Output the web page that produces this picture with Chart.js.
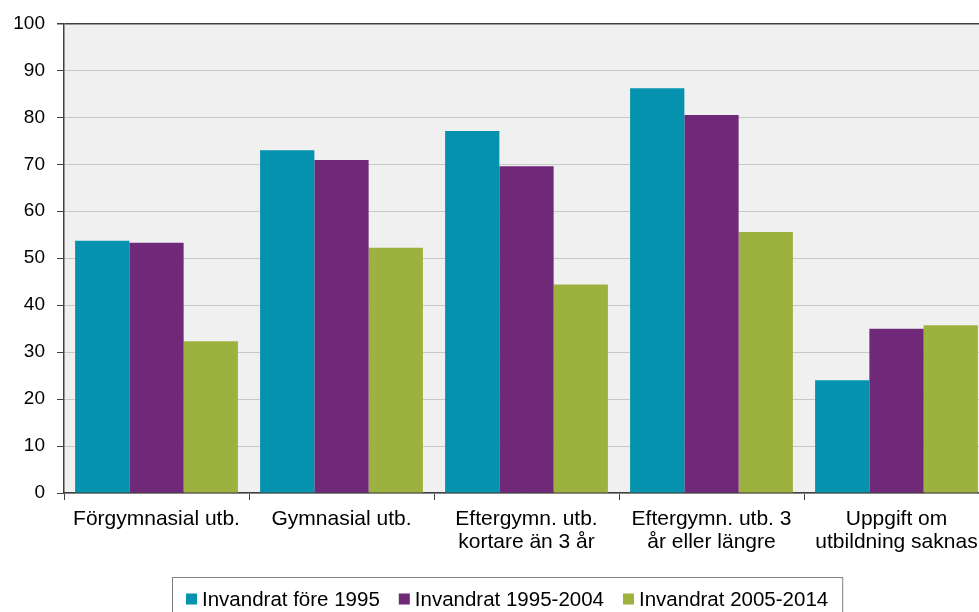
<!DOCTYPE html>
<html>
<head>
<meta charset="utf-8">
<script src="https://cdn.jsdelivr.net/npm/chart.js@4/dist/chart.umd.min.js"></script>
<style>
  html, body { margin: 0; padding: 0; overflow: hidden; background: #fff; }
  canvas { display: block; }
</style>
</head>
<body>
<canvas id="chart" width="990" height="612"></canvas>
<script>
// data
const categories = [
  ['Förgymnasial utb.'],
  ['Gymnasial utb.'],
  ['Eftergymn. utb.', 'kortare än 3 år'],
  ['Eftergymn. utb. 3', 'år eller längre'],
  ['Uppgift om', 'utbildning saknas']
];
const seriesNames = ['Invandrat före 1995', 'Invandrat 1995-2004', 'Invandrat 2005-2014'];
const fore1995 = [53.7, 73.0, 77.1, 86.2, 24.0];
const from1995to2004 = [53.3, 70.9, 69.6, 80.5, 35.0];
const from2005to2014 = [32.3, 52.2, 44.4, 55.6, 35.7];
const yTicks = [0, 10, 20, 30, 40, 50, 60, 70, 80, 90, 100];

const colors = ['#0592AE', '#702878', '#9CB13E'];
const FONT = "'Liberation Sans', Arial, sans-serif";

// grey plot background
const plotBg = {
  id: 'plotBg',
  beforeDraw(chart) {
    const a = chart.chartArea, ctx = chart.ctx;
    ctx.save();
    ctx.fillStyle = '#F0F0F0';
    ctx.fillRect(a.left, a.top, a.right - a.left, a.bottom - a.top);
    ctx.restore();
  }
};

// boxed legend under the axis
const boxLegend = {
  id: 'boxLegend',
  afterDraw(chart) {
    const ctx = chart.ctx;
    ctx.save();
    ctx.font = '20.5px ' + FONT;
    ctx.textBaseline = 'middle';
    const sq = 11, gap = 5, between = 19;
    const items = chart.data.datasets.map(ds => ({ text: ds.label, color: ds.backgroundColor, w: ctx.measureText(ds.label).width }));
    let total = items.reduce((s, it) => s + sq + gap + it.w, 0) + between * (items.length - 1);
    const boxPad = 14;
    const boxLeft = 172, top = 577;
    const boxW = total + boxPad * 2;
    ctx.strokeStyle = '#7f7f7f';
    ctx.lineWidth = 1;
    ctx.strokeRect(boxLeft + 0.5, top + 0.5, boxW, 50);
    let x = boxLeft + boxPad;
    const cy = 599;
    items.forEach(it => {
      ctx.fillStyle = it.color;
      ctx.fillRect(x, cy - sq / 2, sq, sq);
      x += sq + gap;
      ctx.fillStyle = '#000';
      ctx.fillText(it.text, x, cy + 1);
      x += it.w + between;
    });
    ctx.restore();
  }
};

new Chart(document.getElementById('chart'), {
  type: 'bar',
  data: {
    labels: categories,
    datasets: [
      { label: seriesNames[0], data: fore1995, backgroundColor: colors[0] },
      { label: seriesNames[1], data: from1995to2004, backgroundColor: colors[1] },
      { label: seriesNames[2], data: from2005to2014, backgroundColor: colors[2] }
    ]
  },
  options: {
    responsive: false,
    animation: false,
    layout: { padding: { top: 22, right: 1, bottom: 35, left: 0 } },
    datasets: {
      bar: { categoryPercentage: 0.88, barPercentage: 1.0, borderWidth: 0 }
    },
    plugins: {
      legend: { display: false },
      tooltip: { enabled: false }
    },
    scales: {
      x: {
        offset: true,
        afterFit(scale) { scale.height = 84; },
        grid: {
          offset: true,
          drawOnChartArea: false,
          drawTicks: true,
          tickLength: 7,
          tickColor: '#404040'
        },
        border: { color: '#404040', width: 1.5 },
        ticks: {
          color: '#000',
          padding: 8,
          maxRotation: 0,
          autoSkip: false,
          font: { family: FONT, size: 21, lineHeight: 1.1 }
        }
      },
      y: {
        min: 0,
        max: 100,
        afterFit(scale) { scale.width = 64; },
        afterBuildTicks(scale) { scale.ticks = yTicks.map(v => ({ value: v })); },
        grid: {
          color: ctx => (ctx.tick && ctx.tick.value === 100) ? '#404040' : '#C8C8C8',
          lineWidth: ctx => (ctx.tick && ctx.tick.value === 100) ? 1.5 : 1,
          tickLength: 7,
          tickColor: '#404040'
        },
        border: { color: '#404040', width: 1.5 },
        ticks: {
          color: '#000',
          padding: 12,
          font: { family: FONT, size: 19 }
        }
      }
    }
  },
  plugins: [plotBg, boxLegend]
});
</script>
</body>
</html>
